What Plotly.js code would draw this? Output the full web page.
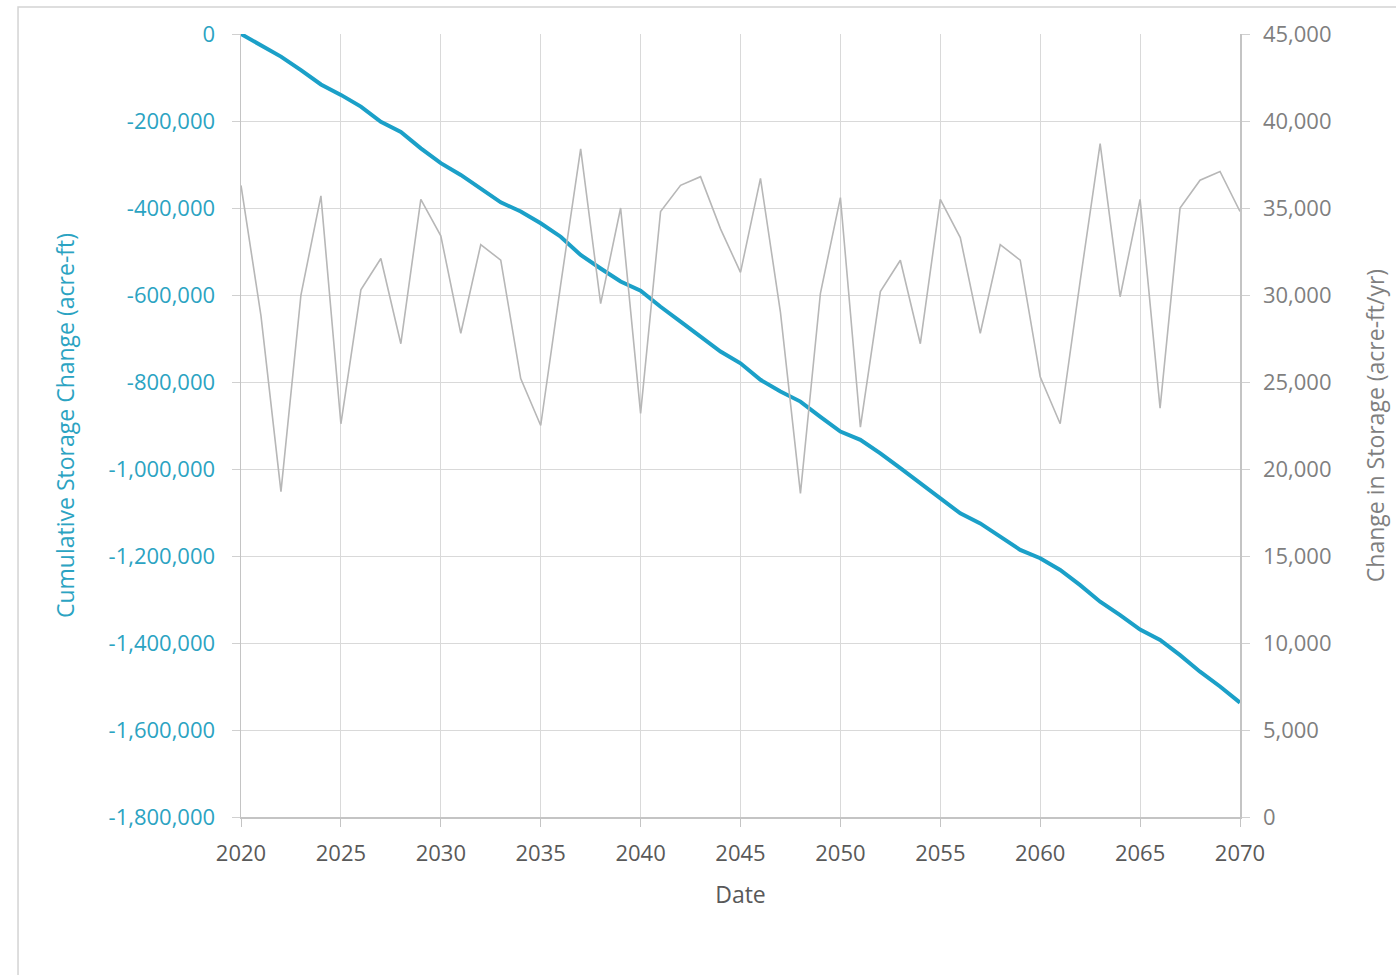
<!DOCTYPE html>
<html>
<head>
<meta charset="utf-8">
<script src="https://cdn.plot.ly/plotly-3.0.1.min.js"></script>
<style>html,body{margin:0;padding:0;background:#fff;}#chart{width:1396px;height:975px;}</style>
</head>
<body>
<div id="chart"></div>
<script>
const years = [2020,2021,2022,2023,2024,2025,2026,2027,2028,2029,2030,2031,2032,2033,2034,2035,2036,2037,2038,2039,2040,2041,2042,2043,2044,2045,2046,2047,2048,2049,2050,2051,2052,2053,2054,2055,2056,2057,2058,2059,2060,2061,2062,2063,2064,2065,2066,2067,2068,2069,2070];

const cumulativeStorage = [0,-27000,-52000,-83000,-116000,-140000,-167000,-202000,-225000,-263000,-297000,-324000,-355000,-387000,-408000,-435000,-466000,-508000,-539000,-569000,-590000,-627000,-661000,-696000,-730000,-757000,-795000,-822000,-845000,-880000,-914000,-933000,-964000,-998000,-1033000,-1067000,-1102000,-1125000,-1156000,-1186000,-1205000,-1232000,-1267000,-1305000,-1336000,-1369000,-1393000,-1428000,-1466000,-1500000,-1537000];

const annualChange = [36300,28800,18700,30000,35700,22600,30300,32100,27200,35500,33400,27800,32900,32000,25200,22500,30600,38400,29500,35000,23200,34800,36300,36800,33800,31300,36700,29000,18600,30100,35600,22400,30200,32000,27200,35500,33300,27800,32900,32000,25300,22600,30800,38700,29900,35500,23500,35000,36600,37100,34800];

const xTicks = [2020,2025,2030,2035,2040,2045,2050,2055,2060,2065,2070];
const leftTicks = [0,-200000,-400000,-600000,-800000,-1000000,-1200000,-1400000,-1600000,-1800000];
const rightTicks = [0,5000,10000,15000,20000,25000,30000,35000,40000,45000];

const fontFam = '"Open Sans", "DejaVu Sans", sans-serif';
const teal = '#2ba3c2';
const grayTxt = '#7f7f7f';

const traces = [
  {
    x: years, y: annualChange, yaxis: 'y2', type: 'scatter', mode: 'lines',
    line: {color: '#b7b7b7', width: 1.6}, name: 'Change in Storage', hoverinfo: 'x+y'
  },
  {
    x: years, y: cumulativeStorage, yaxis: 'y', type: 'scatter', mode: 'lines',
    line: {color: '#1ba0c8', width: 4}, name: 'Cumulative Storage Change', hoverinfo: 'x+y'
  }
];

const layout = {
  width: 1396, height: 975,
  margin: {l: 241, r: 156, t: 34, b: 158},
  paper_bgcolor: '#ffffff', plot_bgcolor: '#ffffff',
  showlegend: false,
  font: {family: fontFam},
  xaxis: {
    range: [2020, 2070], tickvals: xTicks, ticktext: xTicks.map(String),
    showgrid: true, gridcolor: '#d9d9d9', gridwidth: 1,
    showline: true, linecolor: '#c4c4c4', linewidth: 1.5,
    ticks: 'outside', ticklen: 8, tickcolor: '#c4c4c4',
    ticklabelstandoff: 8,
    tickfont: {size: 22, color: '#595959', family: fontFam},
    zeroline: false,
    title: {text: 'Date', font: {size: 23, color: '#595959', family: fontFam}, standoff: 21}
  },
  yaxis: {
    range: [-1800000, 0], tickvals: leftTicks,
    ticktext: leftTicks.map(v => v.toLocaleString('en-US')),
    showgrid: true, gridcolor: '#d9d9d9', gridwidth: 1,
    showline: true, linecolor: '#c4c4c4', linewidth: 1.5,
    ticks: 'outside', ticklen: 8, tickcolor: '#d0d0d0',
    ticklabelstandoff: 12,
    tickfont: {size: 22, color: teal, family: fontFam},
    zeroline: false,
    title: {text: 'Cumulative Storage Change (acre-ft)', font: {size: 23, color: teal, family: fontFam}, standoff: 27}
  },
  yaxis2: {
    range: [0, 45000], overlaying: 'y', side: 'right', tickvals: rightTicks,
    ticktext: rightTicks.map(v => v.toLocaleString('en-US')),
    showgrid: false, showline: true, linecolor: '#c4c4c4', linewidth: 1.5,
    ticks: 'outside', ticklen: 8, tickcolor: '#d0d0d0',
    ticklabelstandoff: 9,
    tickfont: {size: 22, color: grayTxt, family: fontFam},
    zeroline: false,
    title: {text: 'Change in Storage (acre-ft/yr)', font: {size: 23, color: grayTxt, family: fontFam}, standoff: 37}
  },
  shapes: [
    {type: 'rect', xref: 'paper', yref: 'paper', x0: -0.2232, x1: 1.2, y0: -0.25, y1: 1.0345,
     line: {color: '#d4d4d4', width: 1.5}, fillcolor: 'rgba(0,0,0,0)', layer: 'below'}
  ]
};

Plotly.newPlot('chart', traces, layout, {displayModeBar: false, staticPlot: true});
</script>
</body>
</html>
